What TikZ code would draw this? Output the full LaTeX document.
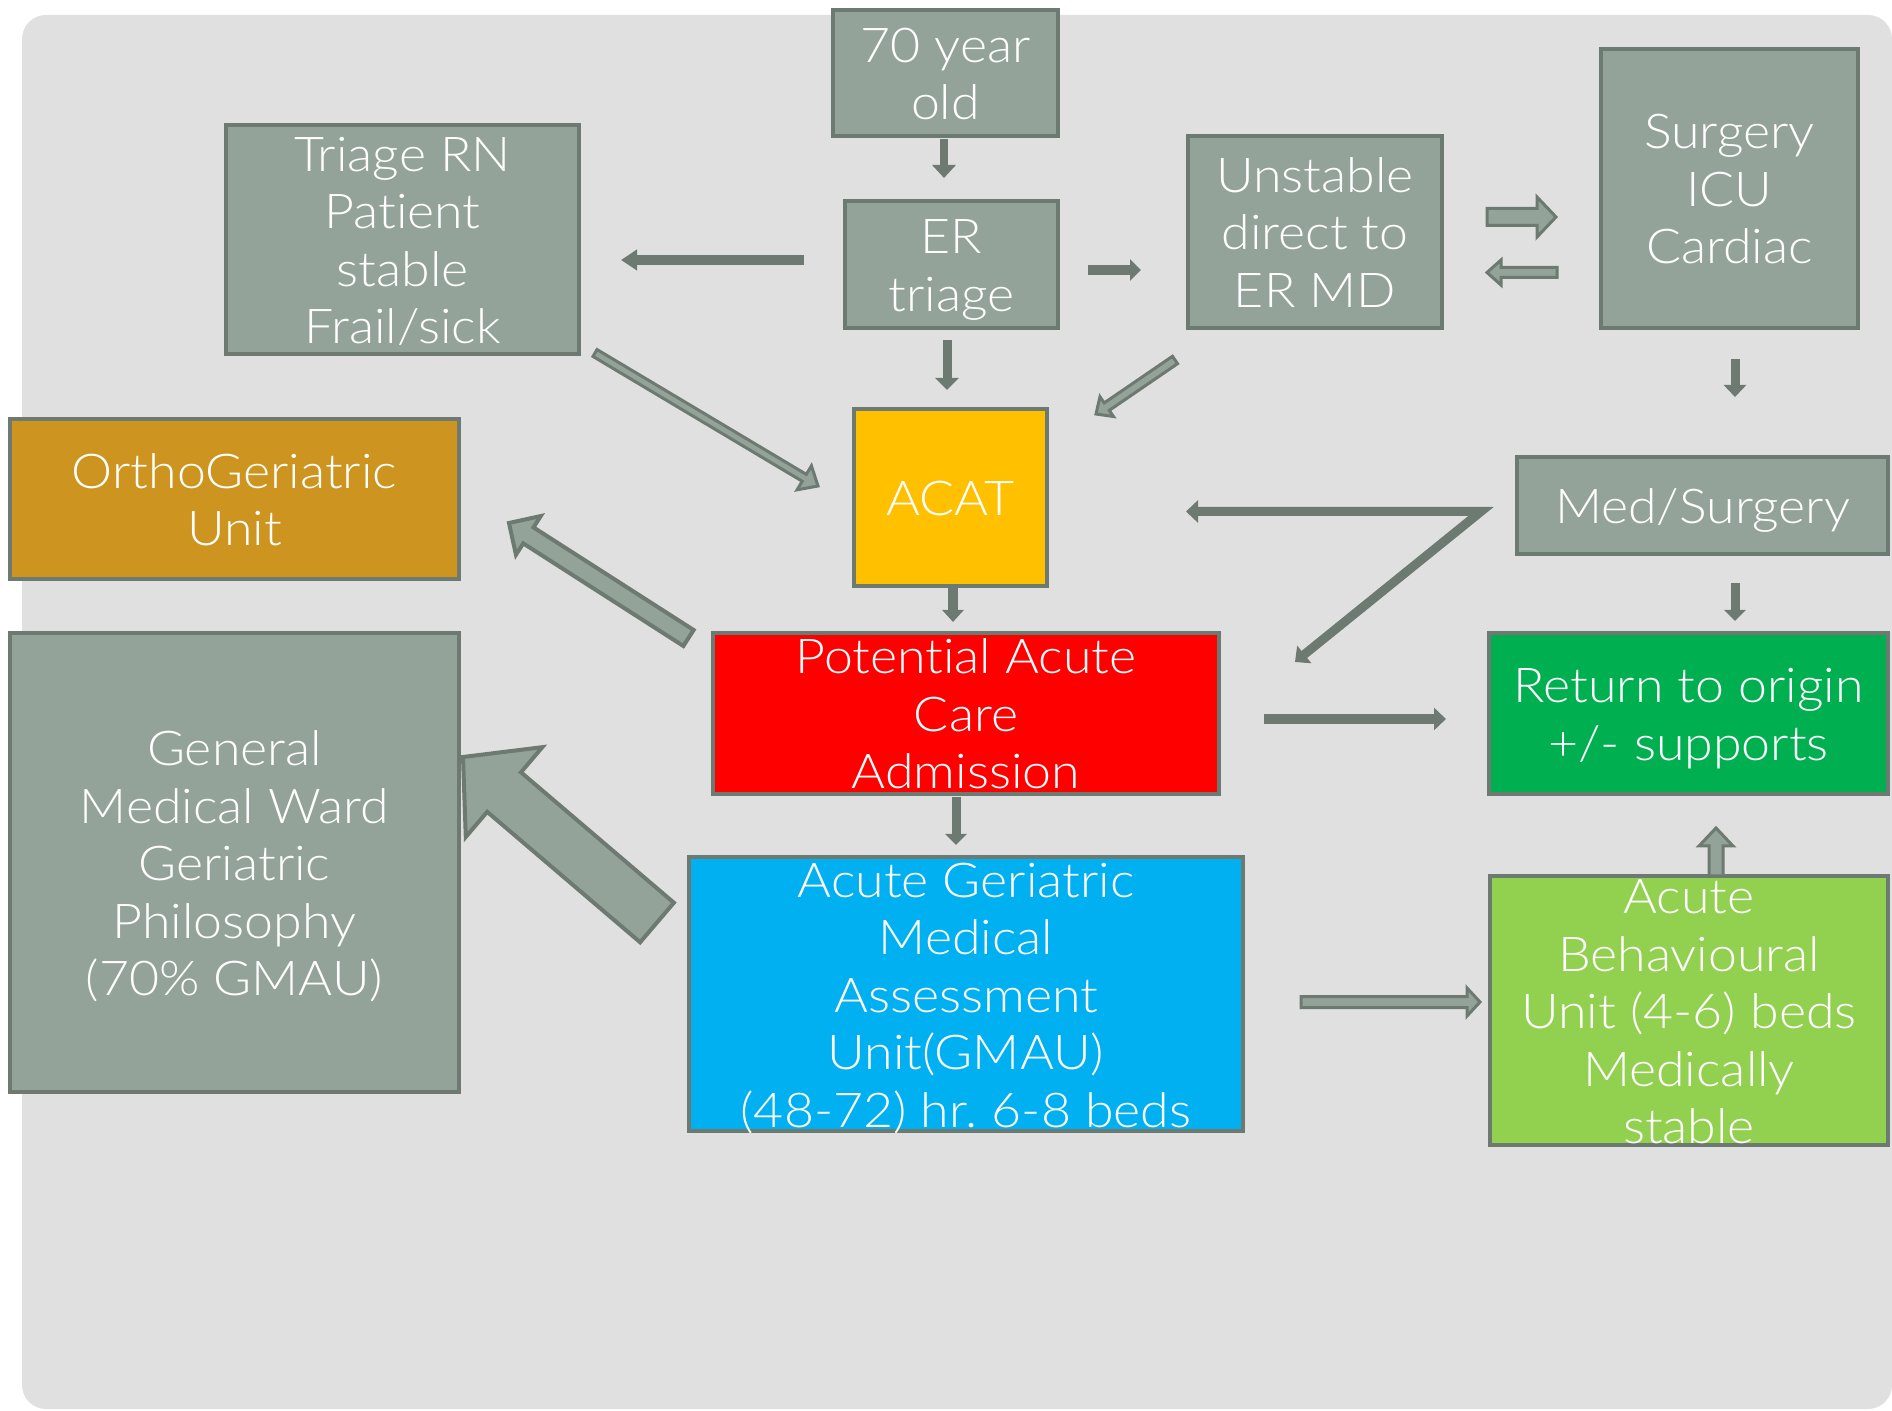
\documentclass[tikz,border=0pt]{standalone}
\usepackage{fontspec}
\IfFontExistsTF{Lato Light}{\setmainfont{Lato Light}[FakeStretch=1.08,Ligatures=NoCommon]}{\setmainfont{Lato}[FakeStretch=1.08,Ligatures=NoCommon]}
\usetikzlibrary{calc,arrows.meta}
\definecolor{bgc}{HTML}{E0E0E0}
\definecolor{bd}{HTML}{6D7A71}
\definecolor{gbox}{HTML}{93A399}
\definecolor{ortho}{HTML}{CD941F}
\definecolor{acat}{HTML}{FFC000}
\definecolor{redc}{HTML}{FF0000}
\definecolor{greenc}{HTML}{00B050}
\definecolor{lgreen}{HTML}{92D050}
\definecolor{bluec}{HTML}{00B0F0}
\frenchspacing
\newcommand\bxtop{\rule{0pt}{24pt}}
\newcommand\bxbot{\rule[-6pt]{0pt}{6pt}}
\tikzset{
  box/.style={draw=bd, line width=2pt, fill=#1, text=white, align=center,
    inner xsep=0pt, inner ysep=-25pt, font=\fontsize{24}{28.75}\selectfont},
  sarrow/.style n args={3}{draw=bd, line width=#1, line join=miter,
    -{Triangle[length=#2,width=#3]}},
  harrow/.style={draw=bd, fill=gbox, line width=1.5pt, line join=miter},
}
% block arrow: [style]{from}{to}{half shaft}{half head}{head length}
\newcommand\blkarrow[6][]{%
  \coordinate (bah) at ($(#3)!#6!(#2)$);
  \draw[harrow,#1] ($(#2)!#4!90:(#3)$) -- ($(bah)!#4!90:(#3)$) --
    ($(bah)!#5!90:(#3)$) -- (#3) -- ($(bah)!#5!-90:(#3)$) --
    ($(bah)!#4!-90:(#3)$) -- ($(#2)!#4!-90:(#3)$) -- cycle;}
\begin{document}
\begin{tikzpicture}[x=0.5pt,y=-0.5pt]
\useasboundingbox (0,0) rectangle (1892,1411);
\fill[white] (0,0) rectangle (1892,1411);
\fill[bgc, rounded corners=12pt] (22,15) rectangle (1892,1409);

% boxes
\node[box=gbox, minimum width=112.5pt, minimum height=63pt] (old) at (945.5,73) {\bxtop 70 year\\old\bxbot};
\node[box=gbox, minimum width=176.5pt, minimum height=114.5pt] (rn) at (402.5,239.5) {\bxtop Triage RN\\Patient\\stable\\Frail/sick\bxbot};
\node[box=gbox, minimum width=106.5pt, minimum height=63.5pt] (er) at (951.5,264.5) {\bxtop ER\\triage\bxbot};
\node[box=gbox, minimum width=127pt, minimum height=96pt] (unst) at (1315,232) {\bxtop Unstable\\direct to\\ER MD\bxbot};
\node[box=gbox, minimum width=128.5pt, minimum height=139.5pt] (surg) at (1729.5,188.5) {\bxtop Surgery\\ICU\\Cardiac\bxbot};
\node[box=ortho, minimum width=224.5pt, minimum height=80pt] (orth) at (234.5,499) {\bxtop OrthoGeriatric\\Unit\bxbot};
\node[box=acat, minimum width=96.5pt, minimum height=88.5pt] (acat) at (950.5,497.5) {\bxtop ACAT\bxbot};
\node[box=gbox, minimum width=185.5pt, minimum height=48.5pt] (meds) at (1702.5,505.5) {\bxtop Med/Surgery\bxbot};
\node[box=redc, minimum width=253pt, minimum height=80.5pt] (pot) at (966,713.5) {\bxtop Potential Acute\\Care\\Admission\bxbot};
\node[box=greenc, minimum width=199.5pt, minimum height=80.5pt] (ret) at (1688.5,713.5) {\bxtop Return to origin\\+/- supports\bxbot};
\node[box=gbox, minimum width=224.5pt, minimum height=229.5pt] (gen) at (234.5,862.5) {\bxtop General\\Medical Ward\\Geriatric\\Philosophy\\(70\% GMAU)\bxbot};
\node[box=bluec, minimum width=277pt, minimum height=137pt] (gmau) at (966,994) {\bxtop Acute Geriatric\\Medical\\Assessment\\Unit(GMAU)\\(48-72) hr. 6-8 beds\bxbot};
\node[box=lgreen, minimum width=199pt, minimum height=134.5pt] (beh) at (1689,1010.5) {\bxtop Acute\\Behavioural\\Unit (4-6) beds\\Medically\\stable\bxbot};

% arrow end points
\coordinate (a1) at (944,139);  \coordinate (a2) at (944,178);
\coordinate (b1) at (804,260);  \coordinate (b2) at (621,260);
\coordinate (c1) at (1088,270); \coordinate (c2) at (1141,270);
\coordinate (d1) at (947,340);  \coordinate (d2) at (947,390);
\coordinate (i1) at (1735,359); \coordinate (i2) at (1735,397);
\coordinate (k1) at (953,588);  \coordinate (k2) at (953,622);
\coordinate (p1) at (956,797);  \coordinate (p2) at (956,845);
\coordinate (l1) at (1735,583); \coordinate (l2) at (1735,621);
\coordinate (m1) at (1264,719); \coordinate (m2) at (1446,719);
\coordinate (j0) at (1481,511.5); \coordinate (j1) at (1186,511.5); \coordinate (j2) at (1295,662);
\coordinate (e1) at (1487,217); \coordinate (e2) at (1556,217);
\coordinate (f1) at (1557,272.5); \coordinate (f2) at (1487,272.5);
\coordinate (g1) at (1175,360); \coordinate (g2) at (1096,414);
\coordinate (h1) at (595,353);  \coordinate (h2) at (818,486);
\coordinate (n1) at (688.5,638); \coordinate (n2) at (509,523);
\coordinate (o1) at (657,922.5); \coordinate (o2) at (463,757);
\coordinate (q1) at (1716,876); \coordinate (q2) at (1716,828);
\coordinate (r1) at (1301,1002); \coordinate (r2) at (1480,1002);

% solid arrows
\draw[sarrow={4pt}{6.5pt}{11.5pt}] (a1) -- (a2);
\draw[sarrow={5pt}{8pt}{10pt}] (b1) -- (b2);
\draw[sarrow={5pt}{5.5pt}{10.5pt}] (c1) -- (c2);
\draw[sarrow={4.5pt}{6pt}{11.5pt}] (d1) -- (d2);
\draw[sarrow={4.5pt}{6pt}{11pt}] (i1) -- (i2);
\draw[sarrow={5pt}{6pt}{10.5pt}] (k1) -- (k2);
\draw[sarrow={4.5pt}{5.5pt}{10.5pt}] (p1) -- (p2);
\draw[sarrow={4.5pt}{5.5pt}{10.5pt}] (l1) -- (l2);
\draw[sarrow={5pt}{6pt}{11pt}] (m1) -- (m2);
\draw[draw=bd, line width=4.5pt, line join=miter,
  {Triangle[length=6pt,width=11pt]}-{Triangle[length=6pt,width=11pt]}] (j1) -- (j0) -- (j2);

% hollow / block arrows
\blkarrow{e1}{e2}{4.25pt}{10pt}{9.5pt}
\blkarrow{f1}{f2}{2.5pt}{6.25pt}{7pt}
\blkarrow{g1}{g2}{2.25pt}{6pt}{6.5pt}
\blkarrow{h1}{h2}{2pt}{7pt}{8pt}
\blkarrow[line width=2pt]{n1}{n2}{4.75pt}{11.5pt}{11.5pt}
\blkarrow[line width=2pt]{o1}{o2}{13pt}{29.5pt}{27pt}
\blkarrow{q1}{q2}{3.5pt}{8.5pt}{9pt}
\blkarrow{r1}{r2}{2.75pt}{7pt}{6.5pt}
\end{tikzpicture}
\end{document}
